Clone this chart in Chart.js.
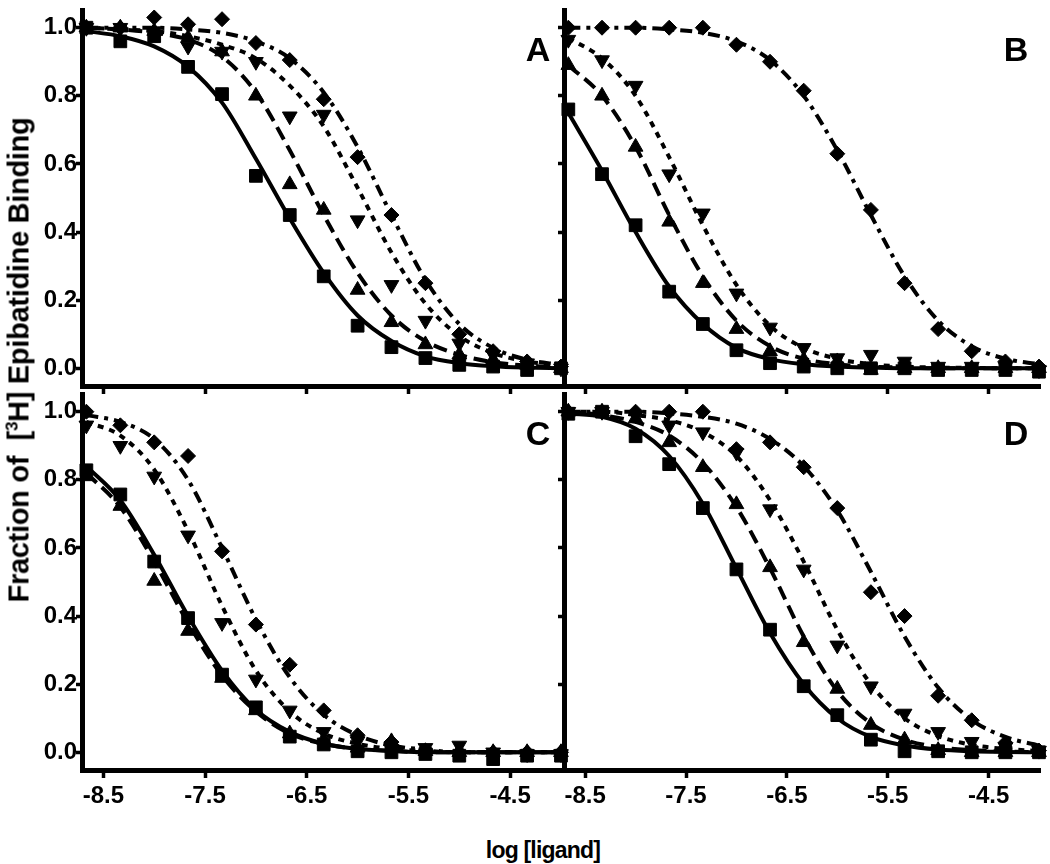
<!doctype html>
<html lang="en">
<head>
  <meta charset="utf-8" />
  <title>Epibatidine binding</title>
  <script src="https://cdn.jsdelivr.net/npm/chart.js@4.4.0/dist/chart.umd.min.js"></script>
  <style>
    body { margin: 0; background: #fff; }
    #wrap { position: relative; width: 1050px; height: 864px; overflow: hidden; font-family: "Liberation Sans", Arial, sans-serif; }
    canvas { position: absolute; }
    .lbl { position: absolute; font-weight: bold; color: #000; white-space: nowrap; }
    #ytitle { left: 19px; top: 360px; font-size: 29px; transform: translate(-50%, -50%) rotate(-90deg); letter-spacing: -0.3px; }
    #xtitle { left: 543px; top: 850px; font-size: 23px; transform: translate(-50%, -50%); letter-spacing: -0.8px; }
    #ytitle sup { font-size: 17px; }
  </style>
</head>
<body>
<div id="wrap">
  <canvas id="cA" width="572" height="400" style="left:0px;top:0px"></canvas>
  <canvas id="cB" width="498" height="400" style="left:552px;top:0px"></canvas>
  <canvas id="cC" width="572" height="436" style="left:0px;top:384px"></canvas>
  <canvas id="cD" width="498" height="436" style="left:552px;top:384px"></canvas>
  <div class="lbl" id="ytitle">Fraction of&nbsp; [<sup>3</sup>H] Epibatidine Binding</div>
  <div class="lbl" id="xtitle">log [ligand]</div>
</div>

<script>
// shared x values (log molar), ticks
var logDose = [-8.667, -8.333, -8.0, -7.667, -7.333, -7.0, -6.667, -6.333, -6.0, -5.667, -5.333, -5.0, -4.667, -4.333, -4.0];
var xTickValues = [-8.5, -7.5, -6.5, -5.5, -4.5];
var yTickValues = [0, 0.2, 0.4, 0.6, 0.8, 1.0];
var panelLetters = ['A', 'B', 'C', 'D'];

// panel A : markers and fitted curve read at the same doses
var aSquare     = [1.0, 0.96, 0.975, 0.885, 0.805, 0.565, 0.45, 0.27, 0.125, 0.062, 0.03, 0.01, 0.005, -0.005, 0.0];
var aSquareFit  = [0.99, 0.975, 0.945, 0.885, 0.78, 0.615, 0.44, 0.28, 0.155, 0.08, 0.035, 0.015, 0.006, 0.002, 0.0];
var aUp         = [1.0, 1.0, 0.99, 0.97, 0.93, 0.80, 0.54, 0.465, 0.23, 0.135, 0.07, 0.04, 0.025, 0.01, 0.0];
var aUpFit      = [1.0, 0.995, 0.985, 0.965, 0.915, 0.81, 0.64, 0.45, 0.28, 0.155, 0.08, 0.04, 0.018, 0.008, 0.003];
var aDown       = [1.0, 1.0, 0.99, 0.945, 0.93, 0.90, 0.74, 0.745, 0.435, 0.245, 0.14, 0.073, 0.04, 0.015, 0.0];
var aDownFit    = [1.0, 0.995, 0.99, 0.975, 0.95, 0.91, 0.83, 0.71, 0.53, 0.34, 0.19, 0.095, 0.045, 0.02, 0.008];
var aDiamond    = [1.0, 1.0, 1.03, 1.01, 1.025, 0.955, 0.905, 0.79, 0.62, 0.45, 0.25, 0.10, 0.05, 0.02, 0.005];
var aDiamondFit = [1.0, 1.0, 1.0, 0.995, 0.985, 0.96, 0.91, 0.81, 0.65, 0.45, 0.26, 0.13, 0.06, 0.025, 0.01];

// panel B
var bSquare     = [0.76, 0.57, 0.42, 0.225, 0.13, 0.053, 0.015, 0.005, 0.0, 0.0, 0.0, -0.005, -0.005, -0.005, -0.01];
var bSquareFit  = [0.75, 0.58, 0.40, 0.24, 0.13, 0.06, 0.027, 0.012, 0.005, 0.002, 0.0, 0.0, 0.0, 0.0, 0.0];
var bUp         = [0.89, 0.80, 0.65, 0.43, 0.25, 0.115, 0.05, 0.025, 0.02, -0.005, 0.0, 0.0, 0.0, 0.0, 0.0];
var bUpFit      = [0.89, 0.80, 0.65, 0.45, 0.27, 0.14, 0.065, 0.028, 0.012, 0.005, 0.002, 0.0, 0.0, 0.0, 0.0];
var bDown       = [0.965, 0.905, 0.83, 0.57, 0.455, 0.22, 0.12, 0.06, 0.03, 0.04, 0.02, 0.005, 0.005, 0.005, -0.005];
var bDownFit    = [0.97, 0.91, 0.80, 0.62, 0.42, 0.245, 0.125, 0.06, 0.028, 0.012, 0.005, 0.002, 0.001, 0.0, 0.0];
var bDiamond    = [1.0, 1.0, 1.0, 1.0, 1.0, 0.95, 0.90, 0.815, 0.63, 0.465, 0.25, 0.115, 0.05, 0.02, 0.005];
var bDiamondFit = [1.0, 1.0, 1.0, 0.995, 0.985, 0.96, 0.905, 0.80, 0.64, 0.45, 0.27, 0.14, 0.065, 0.028, 0.012];

// panel C
var cSquare     = [0.828, 0.757, 0.56, 0.394, 0.228, 0.132, 0.046, 0.023, 0.003, 0.0, -0.005, -0.01, -0.02, -0.01, -0.01];
var cSquareFit  = [0.84, 0.74, 0.58, 0.40, 0.24, 0.125, 0.06, 0.025, 0.01, 0.004, 0.0, 0.0, 0.0, 0.0, 0.0];
var cUp         = [0.81, 0.723, 0.503, 0.356, 0.218, 0.123, 0.055, 0.037, 0.013, 0.032, 0.003, 0.0, 0.0, 0.0, 0.0];
var cUpFit      = [0.82, 0.72, 0.56, 0.38, 0.225, 0.12, 0.055, 0.025, 0.01, 0.004, 0.0, 0.0, 0.0, 0.0, 0.0];
var cDown       = [0.96, 0.90, 0.81, 0.637, 0.38, 0.214, 0.123, 0.06, 0.033, 0.01, 0.013, 0.02, 0.0, -0.005, -0.005];
var cDownFit    = [0.97, 0.93, 0.83, 0.65, 0.43, 0.24, 0.12, 0.055, 0.025, 0.01, 0.004, 0.0, 0.0, 0.0, 0.0];
var cDiamond    = [1.0, 0.96, 0.91, 0.87, 0.59, 0.375, 0.257, 0.123, 0.05, 0.03, 0.005, 0.0, 0.0, 0.0, 0.0];
var cDiamondFit = [0.99, 0.97, 0.92, 0.80, 0.60, 0.39, 0.22, 0.11, 0.05, 0.02, 0.008, 0.0, 0.0, 0.0, 0.0];

// panel D
var dSquare     = [0.994, 1.0, 0.928, 0.846, 0.717, 0.537, 0.36, 0.194, 0.109, 0.037, 0.003, 0.003, 0.0, 0.0, 0.0];
var dSquareFit  = [0.995, 0.985, 0.95, 0.87, 0.73, 0.54, 0.35, 0.20, 0.10, 0.045, 0.02, 0.008, 0.003, 0.001, 0.0];
var dUp         = [1.0, 1.0, 0.98, 0.91, 0.837, 0.728, 0.543, 0.323, 0.186, 0.08, 0.037, 0.006, 0.0, 0.0, 0.0];
var dUpFit      = [1.0, 0.99, 0.97, 0.93, 0.85, 0.72, 0.54, 0.34, 0.18, 0.085, 0.037, 0.015, 0.006, 0.002, 0.0];
var dDown       = [1.0, 1.0, 0.99, 0.96, 0.94, 0.88, 0.714, 0.537, 0.314, 0.194, 0.114, 0.06, 0.031, 0.015, 0.005];
var dDownFit    = [1.0, 1.0, 0.99, 0.975, 0.94, 0.87, 0.74, 0.56, 0.36, 0.20, 0.10, 0.048, 0.022, 0.01, 0.004];
var dDiamond    = [1.0, 1.0, 1.0, 1.0, 1.0, 0.89, 0.91, 0.837, 0.717, 0.47, 0.40, 0.166, 0.094, 0.028, 0.005];
var dDiamondFit = [1.0, 1.0, 1.0, 0.995, 0.985, 0.965, 0.92, 0.84, 0.71, 0.53, 0.34, 0.19, 0.095, 0.045, 0.02];
</script>

<script>
var markerStyle = {
  square:  { pointStyle: 'rect',     radius: 9,   rotation: 0,   dash: [] },
  up:      { pointStyle: 'triangle', radius: 8.5, rotation: 0,   dash: [14, 7] },
  down:    { pointStyle: 'triangle', radius: 8.5, rotation: 180, dash: [6, 6] },
  diamond: { pointStyle: 'rectRot',  radius: 7.5, rotation: 0,   dash: [12, 6, 4, 6] }
};

function toPoints(ys) {
  return logDose.map(function (x, i) { return { x: x, y: ys[i] }; });
}

function curveSet(ys, kind) {
  return {
    data: toPoints(ys), showLine: true, borderColor: '#000', borderWidth: 4,
    borderDash: markerStyle[kind].dash, pointRadius: 0, pointHoverRadius: 0,
    cubicInterpolationMode: 'monotone', fill: false, clip: false
  };
}

function markerSet(ys, kind) {
  var s = markerStyle[kind];
  return {
    data: toPoints(ys), showLine: false, pointStyle: s.pointStyle, pointRadius: s.radius,
    pointRotation: s.rotation, backgroundColor: '#000', borderColor: '#000', pointBorderWidth: 1,
    clip: false
  };
}

// fixes axis sizes so the four plot areas line up
function sizeAxis(w, h) {
  return function (scale) {
    if (w !== null) scale.width = w;
    if (h !== null) scale.height = h;
    scale.paddingLeft = 0; scale.paddingRight = 0; scale.paddingTop = 0; scale.paddingBottom = 0;
  };
}

var letterPlugin = {
  id: 'letter',
  afterDraw: function (chart, args, opts) {
    var ctx = chart.ctx, a = chart.chartArea;
    ctx.save();
    ctx.font = 'bold 34px "Liberation Sans", Arial, sans-serif';
    ctx.fillStyle = '#000';
    ctx.textAlign = 'center';
    ctx.textBaseline = 'middle';
    ctx.fillText(opts.text, a.right - 24, a.top + 42);
    ctx.restore();
  }
};

function Draw(id, letter, sets, yLabels, xLabels, pad, yWidth, xHeight) {
  var tickFont = { family: '"Liberation Sans", Arial, sans-serif', size: 24, weight: 'bold' };
  new Chart(document.getElementById(id), {
    type: 'scatter',
    data: { datasets: [
      curveSet(sets[1], 'square'), curveSet(sets[3], 'up'), curveSet(sets[5], 'down'), curveSet(sets[7], 'diamond'),
      markerSet(sets[0], 'square'), markerSet(sets[2], 'up'), markerSet(sets[4], 'down'), markerSet(sets[6], 'diamond')
    ] },
    plugins: [letterPlugin],
    options: {
      responsive: false, animation: false, devicePixelRatio: 1,
      layout: { padding: pad },
      plugins: { legend: { display: false }, tooltip: { enabled: false }, letter: { text: letter } },
      scales: {
        x: {
          type: 'linear', min: -8.71, max: -3.99,
          afterBuildTicks: function (s) { s.ticks = xTickValues.map(function (v) { return { value: v }; }); },
          afterFit: sizeAxis(null, xHeight),
          grid: { drawOnChartArea: false, drawTicks: true, tickLength: 8, tickWidth: 3.5, tickColor: '#000' },
          border: { display: true, color: '#000', width: 5 },
          ticks: { display: xLabels, color: '#000', font: tickFont, padding: 4, maxRotation: 0,
                   callback: function (v) { return v.toFixed(1); } }
        },
        y: {
          type: 'linear', min: -0.052, max: 1.052,
          afterBuildTicks: function (s) { s.ticks = yTickValues.map(function (v) { return { value: v }; }); },
          afterFit: sizeAxis(yWidth, null),
          grid: { drawOnChartArea: false, drawTicks: true, tickLength: 6, tickWidth: 3.5, tickColor: '#000' },
          border: { display: true, color: '#000', width: 5 },
          ticks: { display: yLabels, color: '#000', font: tickFont, padding: -1,
                   callback: function (v) { return v.toFixed(1); } }
        }
      }
    }
  });
}

Draw('cA', panelLetters[0], [aSquare, aSquareFit, aUp, aUpFit, aDown, aDownFit, aDiamond, aDiamondFit],
     true, false, { top: 2, right: 9, left: 0, bottom: 0 }, 82, 14);
Draw('cB', panelLetters[1], [bSquare, bSquareFit, bUp, bUpFit, bDown, bDownFit, bDiamond, bDiamondFit],
     false, false, { top: 2, right: 5, left: 0, bottom: 0 }, 12, 14);
Draw('cC', panelLetters[2], [cSquare, cSquareFit, cUp, cUpFit, cDown, cDownFit, cDiamond, cDiamondFit],
     true, true, { top: 2, right: 9, left: 0, bottom: 0 }, 82, 50);
Draw('cD', panelLetters[3], [dSquare, dSquareFit, dUp, dUpFit, dDown, dDownFit, dDiamond, dDiamondFit],
     false, true, { top: 2, right: 5, left: 0, bottom: 0 }, 12, 50);
</script>
</body>
</html>
